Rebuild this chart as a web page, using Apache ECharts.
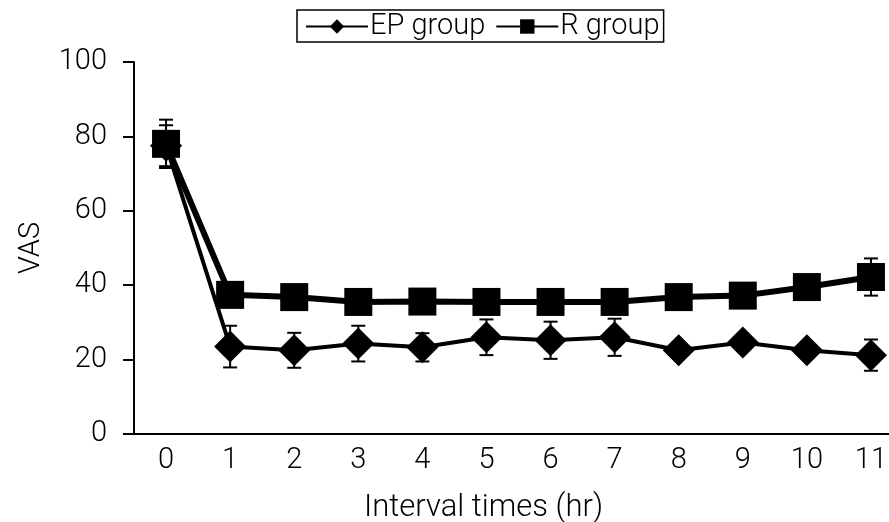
<!DOCTYPE html>
<html><head><meta charset="utf-8">
<script src="https://cdn.jsdelivr.net/npm/echarts@6/dist/echarts.min.js"></script>
<style>html,body{margin:0;padding:0;background:#fff}#c{width:889px;height:522px}</style>
</head><body><div id="c"></div>
<script>
const categories = ['0','1','2','3','4','5','6','7','8','9','10','11'];
const epMean = [77.5, 23.5, 22.5, 24.3, 23.3, 26, 25.2, 26, 22.5, 24.6, 22.5, 21.2];
const epErr  = [5.5, 5.6, 4.7, 4.8, 3.8, 4.8, 5, 5, 2, 2, 2, 4.2];
const rMean  = [78, 37.4, 36.8, 35.5, 35.6, 35.5, 35.5, 35.5, 36.8, 37.2, 39.5, 42.2];
const rErr   = [6.5, 3, 3, 3, 3, 3, 3, 3, 3, 3, 3, 5];
const FONT = 'Roboto, "Liberation Sans", Arial, sans-serif';
const FW = 300;

function errData(mean, err){ return mean.map((m,i)=>[i, m-err[i], m+err[i]]); }
function errSeries(mean, err){
  return {
    type:'custom', silent:true, z:1,
    data: errData(mean, err),
    renderItem(params, api){
      const x = api.value(0);
      const lo = api.coord([x, api.value(1)]);
      const hi = api.coord([x, api.value(2)]);
      const w = 7;
      const st = {stroke:'#000', lineWidth:2};
      return {type:'group', children:[
        {type:'line', shape:{x1:lo[0],y1:lo[1],x2:hi[0],y2:hi[1]}, style:st},
        {type:'line', shape:{x1:lo[0]-w,y1:lo[1],x2:lo[0]+w,y2:lo[1]}, style:st},
        {type:'line', shape:{x1:hi[0]-w,y1:hi[1],x2:hi[0]+w,y2:hi[1]}, style:st}
      ]};
    }
  };
}

const chart = echarts.init(document.getElementById('c'), null, {renderer:'canvas'});
chart.setOption({
  animation:false,
  textStyle:{fontFamily:FONT, fontWeight:FW},
  legend:{
    top:10, left:297, itemGap:10,
    borderColor:'#000', borderWidth:1.5, padding:[2,4,1,8],
    itemWidth:62, itemHeight:18,
    textStyle:{fontFamily:FONT, fontWeight:FW, fontSize:29, color:'#000', padding:[0,0,0,-3]},
    data:[{name:'EP group'},{name:'R group'}]
  },
  grid:{left:134, top:62, bottom:88, right:-14, containLabel:false, outerBoundsMode:'none'},
  xAxis:{
    type:'category', data:categories, boundaryGap:true,
    name:'Interval times (hr)', nameLocation:'middle', nameGap:59,
    nameTextStyle:{fontFamily:FONT, fontWeight:FW, fontSize:31, color:'#000', padding:[0,70,0,0]},
    axisLine:{lineStyle:{color:'#000', width:2}},
    axisTick:{show:false},
    axisLabel:{fontFamily:FONT, fontWeight:FW, fontSize:29, color:'#000', margin:12},
    splitLine:{show:false}
  },
  yAxis:{
    type:'value', min:0, max:100, interval:20,
    name:'VAS', nameLocation:'middle', nameGap:88, nameRotate:90,
    nameTextStyle:{fontFamily:FONT, fontWeight:FW, fontSize:29, color:'#000'},
    axisLine:{show:true, lineStyle:{color:'#000', width:2}},
    axisTick:{show:true, length:11, lineStyle:{color:'#000', width:2}},
    axisLabel:{fontFamily:FONT, fontWeight:FW, fontSize:29, color:'#000', margin:27},
    splitLine:{show:false}
  },
  series:[
    errSeries(epMean, epErr),
    errSeries(rMean, rErr),
    {name:'EP group', type:'line', data:epMean, z:3,
     symbol:'diamond', symbolSize:[32,32],
     lineStyle:{color:'#000', width:4}, itemStyle:{color:'#000'}},
    {name:'R group', type:'line', data:rMean, z:4,
     symbol:'rect', symbolSize:[28,28],
     lineStyle:{color:'#000', width:6}, itemStyle:{color:'#000'}}
  ]
});
</script></body></html>
